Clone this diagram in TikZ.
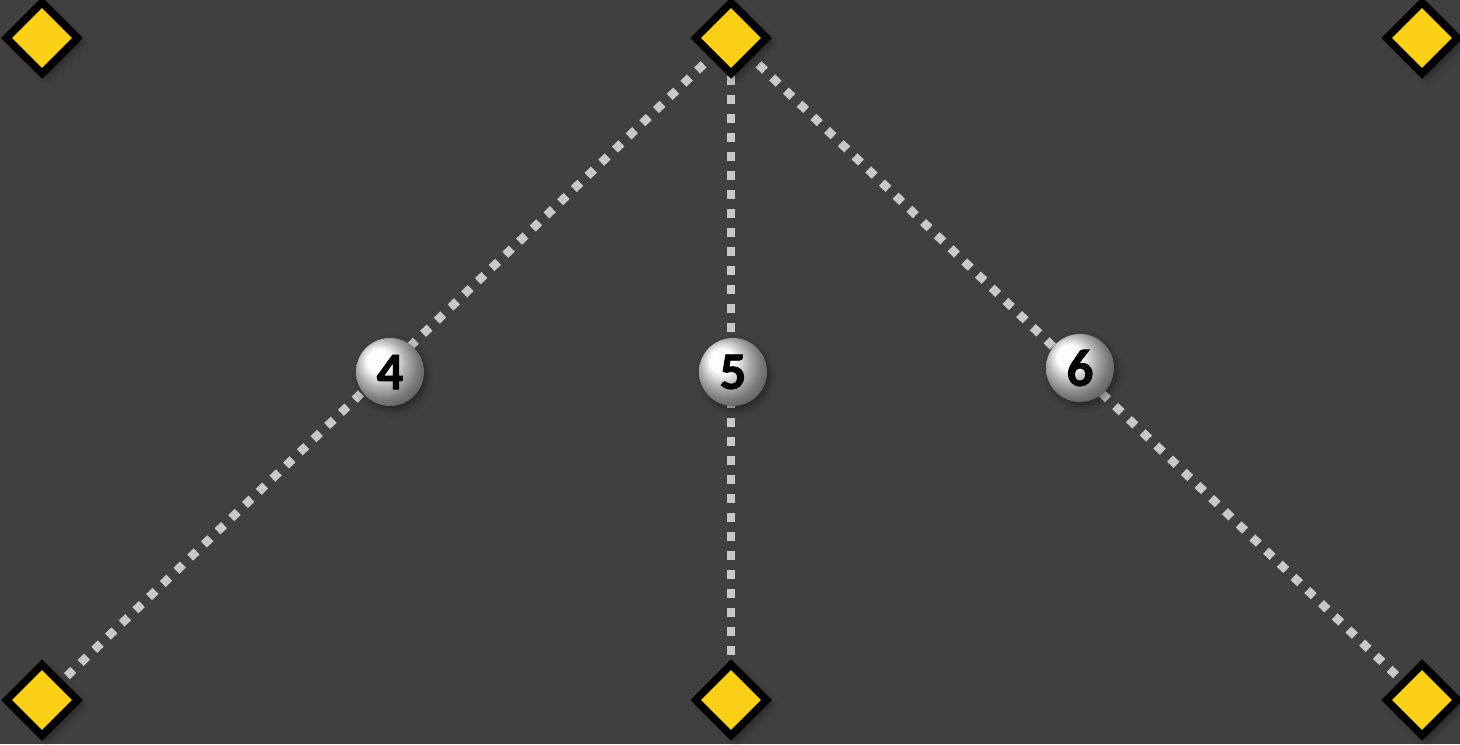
\documentclass[tikz,border=0pt]{standalone}
\usepackage{fontspec}
\setmainfont{Carlito}
\newfontfamily\beadfont{Carlito}[UprightFont=*-Bold, FakeBold=1.5]
\usetikzlibrary{shapes.geometric,backgrounds,shadows.blur}
\definecolor{canvas}{RGB}{64,64,64}
\definecolor{signal}{RGB}{252,208,22}
\definecolor{trail}{RGB}{200,200,200}

\begin{document}
\begin{tikzpicture}[
  marker/.style={shape=diamond, aspect=1, minimum size=0.74cm, inner sep=0pt,
    draw=black, line width=0.075cm, fill=signal,
    blur shadow={shadow xshift=0.05cm, shadow yshift=-0.05cm, shadow opacity=40}},
  bead/.style={circle, minimum size=0.68cm, inner sep=0pt, ball color=gray!4,
    font=\beadfont\fontsize{15}{18}\selectfont, text=black,
    blur shadow={shadow xshift=0.03cm, shadow yshift=-0.04cm, shadow opacity=40}},
  trailline/.style={draw=trail, line width=0.085cm, dash pattern=on 0.09cm off 0.1cm}
]
\useasboundingbox (0,0) rectangle (14.6,7.44);

% corner and top markers
\node[marker] (tl) at (0.42,7.06) {};
\node[marker] (tm) at (7.31,7.06) {};
\node[marker] (tr) at (14.22,7.06) {};
\node[marker] (bl) at (0.42,0.44) {};
\node[marker] (bm) at (7.31,0.44) {};
\node[marker] (br) at (14.22,0.44) {};

% numbered beads
\node[bead] (n4) at (3.90,3.72) {4};
\node[bead] (n5) at (7.33,3.72) {5};
\node[bead] (n6) at (10.80,3.76) {6};

\begin{scope}[on background layer]
\fill[canvas] (0,0) rectangle (14.6,7.44);
\draw[trailline] (tm.center) -- (bl.center);
\draw[trailline] (tm.center) -- (bm.center);
\draw[trailline] (tm.center) -- (br.center);
\end{scope}
\end{tikzpicture}
\end{document}
